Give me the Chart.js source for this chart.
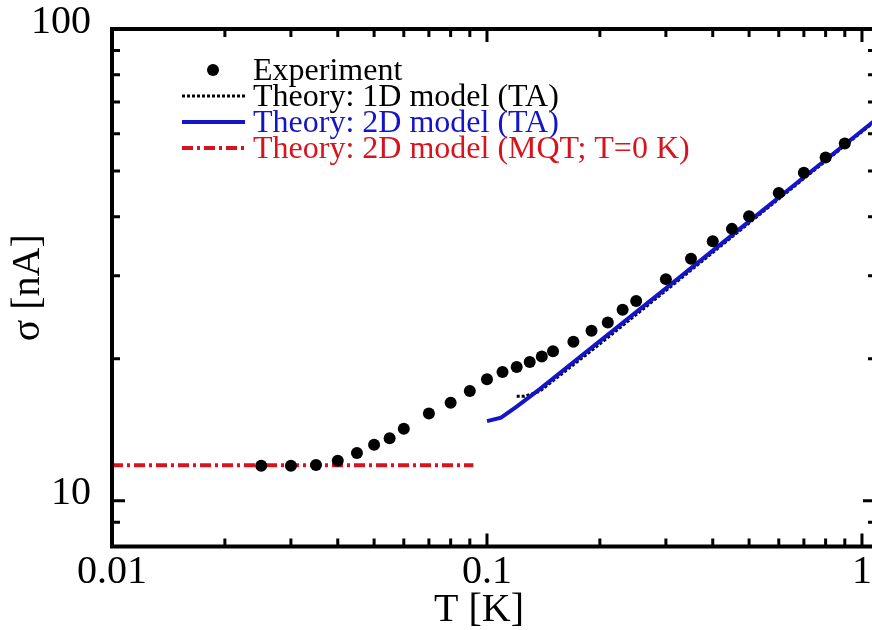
<!DOCTYPE html>
<html lang="en">
<head>
<meta charset="UTF-8">
<title>sigma vs T</title>
<script src="https://cdn.jsdelivr.net/npm/chart.js"></script>
<style>
    html, body { margin: 0; padding: 0; overflow: hidden; background: #ffffff; }
    .quadro { position: relative; width: 884px; height: 630px; }
</style>
</head>
<body>
<div class="quadro"><canvas id="grafico"></canvas></div>

<script>
    // medidas (T em K, sigma em nA)
    var tempExp = [0.025, 0.030, 0.035, 0.040, 0.045, 0.050, 0.055, 0.060, 0.070, 0.080, 0.090,
        0.100, 0.110, 0.120, 0.130, 0.140, 0.150, 0.170, 0.190, 0.210, 0.230, 0.250,
        0.300, 0.350, 0.400, 0.450, 0.500, 0.600, 0.700, 0.800, 0.900];
    var sigmaExp = [11.87, 11.87, 11.91, 12.16, 12.63, 13.14, 13.57, 14.21, 15.31, 16.14, 17.09,
        18.10, 18.75, 19.21, 19.69, 20.22, 20.75, 21.72, 22.93, 23.88, 25.40, 26.50,
        29.50, 32.60, 35.50, 37.70, 40.10, 44.90, 49.60, 53.40, 57.20];

    // teoria 1D (TA)
    var temp1D = [0.120, 0.126, 0.138, 0.200, 0.300, 0.500, 0.700, 1.090];
    var sigma1D = [16.65, 16.65, 17.05, 21.50, 27.90, 38.80, 48.20, 64.00];

    // teoria 2D (TA)
    var temp2D = [0.100, 0.109, 0.120, 0.138, 0.200, 0.300, 0.500, 0.700, 1.090];
    var sigma2D = [14.75, 15.00, 15.83, 17.23, 21.80, 28.20, 39.10, 48.50, 64.30];

    // teoria 2D (MQT; T=0 K)
    var tempMQT = [0.010, 0.092];
    var sigmaMQT = [11.90, 11.90];

    var xTicks = [0.01, 0.02, 0.03, 0.04, 0.05, 0.06, 0.07, 0.08, 0.09,
        0.1, 0.2, 0.3, 0.4, 0.5, 0.6, 0.7, 0.8, 0.9, 1];
    var yTicks = [8, 9, 10, 20, 30, 40, 50, 60, 70, 80, 90, 100];
    var xLabels = ['0.01', '0.1', '1'];
    var yLabels = ['10', '100'];

    function pares(xs, ys) {
        return xs.map((x, i) => ({ x: x, y: ys[i] }));
    }

    function rotulo(lista, value) {
        var achado = lista.find(l => parseFloat(l) === value);
        return achado === undefined ? '' : achado;
    }

    function ehMaior(v) {
        var l = Math.log10(v);
        return Math.abs(l - Math.round(l)) < 1e-9;
    }

    // moldura com marcas para dentro nos quatro lados
    const moldura = {
        id: 'moldura',
        afterDraw(chart) {
            const ctx = chart.ctx;
            const a = chart.chartArea;
            const sx = chart.scales.x;
            const sy = chart.scales.y;
            ctx.save();
            ctx.strokeStyle = '#000';
            ctx.lineWidth = 3;
            sx.ticks.forEach(t => {
                const p = sx.getPixelForValue(t.value);
                const len = ehMaior(t.value) ? 13 : 8;
                ctx.beginPath();
                ctx.moveTo(p, a.bottom); ctx.lineTo(p, a.bottom - len);
                ctx.moveTo(p, a.top); ctx.lineTo(p, a.top + len);
                ctx.stroke();
            });
            sy.ticks.forEach(t => {
                const p = sy.getPixelForValue(t.value);
                const len = ehMaior(t.value) ? 13 : 8;
                ctx.beginPath();
                ctx.moveTo(a.left, p); ctx.lineTo(a.left + len, p);
                ctx.moveTo(a.right, p); ctx.lineTo(a.right - len, p);
                ctx.stroke();
            });
            ctx.lineWidth = 4;
            ctx.strokeRect(a.left, a.top, a.right - a.left, a.bottom - a.top);
            ctx.restore();
        }
    };

    // legenda dentro do grafico
    const legenda = {
        id: 'legenda',
        afterDatasetsDraw(chart) {
            const ctx = chart.ctx;
            ctx.save();
            ctx.font = '32px "Liberation Serif"';
            ctx.textBaseline = 'alphabetic';
            chart.data.datasets.forEach((ds, i) => {
                const y = 70 + i * 26;
                if (ds.showLine === false) {
                    ctx.fillStyle = ds.backgroundColor;
                    ctx.beginPath();
                    ctx.arc(213, y, ds.pointRadius, 0, Math.PI * 2);
                    ctx.fill();
                } else {
                    ctx.strokeStyle = ds.borderColor;
                    ctx.lineWidth = ds.borderWidth;
                    ctx.setLineDash(ds.borderDash || []);
                    ctx.beginPath();
                    ctx.moveTo(182, y);
                    ctx.lineTo(245, y);
                    ctx.stroke();
                    ctx.setLineDash([]);
                }
                ctx.fillStyle = ds.borderColor || ds.backgroundColor;
                ctx.fillText(ds.label, 253, y + 9.5);
            });
            ctx.restore();
        }
    };

    var ctx = document.getElementById('grafico').getContext('2d');

    var config = {
        type: 'scatter',
        data: {
            datasets: [
                {
                    label: 'Experiment',
                    data: pares(tempExp, sigmaExp),
                    showLine: false,
                    backgroundColor: '#000000',
                    borderColor: '#000000',
                    borderWidth: 0,
                    pointRadius: 6,
                    order: 0
                },
                {
                    label: 'Theory: 1D model (TA)',
                    data: pares(temp1D, sigma1D),
                    showLine: true,
                    borderColor: '#000000',
                    borderWidth: 3,
                    borderDash: [3, 2],
                    pointRadius: 0,
                    order: 2
                },
                {
                    label: 'Theory: 2D model (TA)',
                    data: pares(temp2D, sigma2D),
                    showLine: true,
                    borderColor: '#1414c8',
                    borderWidth: 4,
                    pointRadius: 0,
                    order: 1
                },
                {
                    label: 'Theory: 2D model (MQT; T=0 K)',
                    data: pares(tempMQT, sigmaMQT),
                    showLine: true,
                    borderColor: '#d7141e',
                    borderWidth: 4,
                    borderDash: [11, 4, 3, 4],
                    pointRadius: 0,
                    order: 3
                }
            ]
        },
        options: {
            responsive: true,
            maintainAspectRatio: false,
            animation: false,
            events: [],
            layout: { padding: { top: 29, right: 8, left: 0, bottom: 0 } },
            plugins: {
                legend: { display: false },
                tooltip: { enabled: false }
            },
            scales: {
                x: {
                    type: 'logarithmic',
                    min: 0.01,
                    max: 1.09,
                    afterBuildTicks: s => { s.ticks = xTicks.map(v => ({ value: v })); },
                    afterFit: s => {
                        s.height = 83.5;
                        s.paddingLeft = 0;
                        s.paddingRight = 0;
                    },
                    grid: { display: false, drawTicks: false },
                    border: { display: false },
                    ticks: {
                        autoSkip: false,
                        maxRotation: 0,
                        padding: 6,
                        color: '#000',
                        font: { family: 'Liberation Serif', size: 40, lineHeight: 1 },
                        callback: v => rotulo(xLabels, v)
                    },
                    title: {
                        display: true,
                        text: 'T [K]   ',
                        color: '#000',
                        padding: { top: 0, bottom: 0 },
                        font: { family: 'Liberation Serif', size: 40, lineHeight: 1 }
                    }
                },
                y: {
                    type: 'logarithmic',
                    min: 8,
                    max: 100,
                    afterBuildTicks: s => { s.ticks = yTicks.map(v => ({ value: v })); },
                    afterFit: s => {
                        s.width = 112;
                        s.paddingTop = 0;
                        s.paddingBottom = 0;
                    },
                    grid: { display: false, drawTicks: false },
                    border: { display: false },
                    ticks: {
                        autoSkip: false,
                        padding: 21,
                        labelOffset: -7,
                        color: '#000',
                        font: { family: 'Liberation Serif', size: 40, lineHeight: 1 },
                        callback: v => rotulo(yLabels, v)
                    },
                    title: {
                        display: true,
                        text: 'σ [nA]',
                        color: '#000',
                        padding: { top: 8, bottom: 0 },
                        font: { family: 'Liberation Serif', size: 40, lineHeight: 1 }
                    }
                }
            }
        },
        plugins: [moldura, legenda]
    };

    new Chart(ctx, config);
</script>
</body>
</html>
